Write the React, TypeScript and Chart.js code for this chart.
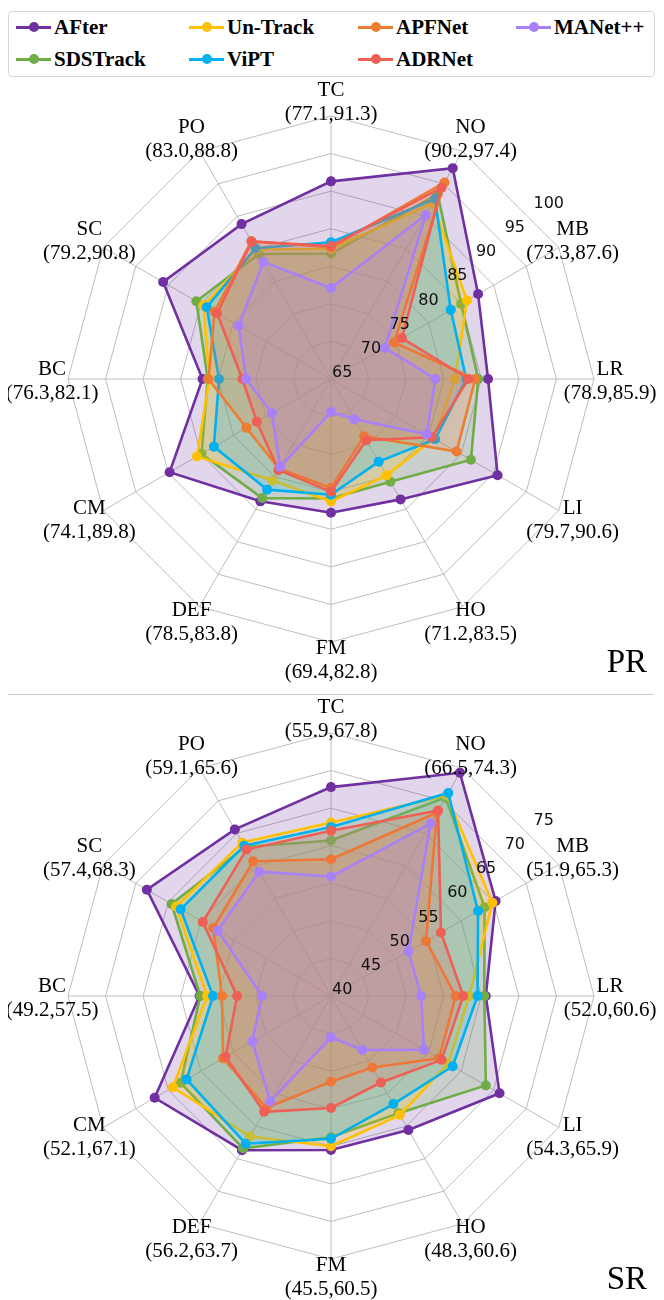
import React, { useEffect, useRef } from "react";
import { Chart, registerables } from "chart.js";

Chart.register(...registerables);

// ---------- data ----------
const categories = ["TC", "NO", "MB", "LR", "LI", "HO", "FM", "DEF", "CM", "BC", "SC", "PO"];
const prRanges = ["(77.1,91.3)", "(90.2,97.4)", "(73.3,87.6)", "(78.9,85.9)", "(79.7,90.6)", "(71.2,83.5)", "(69.4,82.8)", "(78.5,83.8)", "(74.1,89.8)", "(76.3,82.1)", "(79.2,90.8)", "(83.0,88.8)"];
const srRanges = ["(55.9,67.8)", "(66.5,74.3)", "(51.9,65.3)", "(52.0,60.6)", "(54.3,65.9)", "(48.3,60.6)", "(45.5,60.5)", "(56.2,63.7)", "(52.1,67.1)", "(49.2,57.5)", "(57.4,68.3)", "(59.1,65.6)"];
const prTicks = [65, 70, 75, 80, 85, 90, 95, 100];
const srTicks = [40, 45, 50, 55, 60, 65, 70, 75];

const trackers = ["AFter", "Un-Track", "APFNet", "MANet++", "SDSTrack", "ViPT", "ADRNet"];
const colors = ["#7030A0", "#FFC000", "#ED7D31", "#A880F8", "#70AD47", "#00B0F0", "#EE6055"];
const drawOrder = [6, 4, 2, 0, 5, 3, 1];

const prAFter = [91.3, 97.4, 87.6, 85.9, 90.6, 83.5, 82.8, 83.8, 89.8, 82.1, 90.8, 88.8];
const prUnTrack = [82.3, 92.0, 85.9, 81.5, 80.8, 79.8, 81.3, 80.6, 85.6, 81.2, 84.6, 84.9];
const prAPFNet = [82.5, 95.2, 74.7, 84.2, 84.3, 73.8, 79.5, 78.8, 78.0, 81.3, 82.9, 86.2];
const prMANet = [77.1, 90.2, 73.3, 78.9, 79.7, 71.2, 69.4, 78.5, 74.1, 76.3, 79.2, 83.0];
const prSDSTrack = [81.7, 93.4, 85.0, 84.6, 86.5, 80.8, 80.9, 83.3, 84.9, 81.4, 85.7, 84.2];
const prViPT = [83.2, 92.7, 83.4, 83.0, 81.0, 77.7, 80.4, 82.0, 83.0, 79.9, 84.1, 85.1];
const prADRNet = [82.7, 94.4, 75.9, 83.3, 80.5, 74.4, 80.0, 79.0, 76.4, 76.8, 82.5, 86.1];

const srAFter = [67.8, 74.3, 65.3, 60.6, 65.9, 60.6, 60.5, 63.7, 67.1, 57.5, 68.3, 65.6];
const srUnTrack = [63.1, 70.8, 64.8, 58.4, 58.0, 58.3, 60.0, 61.6, 64.3, 56.5, 63.8, 63.6];
const srAPFNet = [58.2, 68.2, 54.6, 56.6, 56.6, 51.0, 51.4, 57.2, 56.6, 54.5, 58.1, 60.7];
const srMANet = [55.9, 66.5, 51.9, 52.0, 54.3, 48.3, 45.5, 56.2, 52.1, 49.2, 57.4, 59.1];
const srSDSTrack = [60.7, 70.5, 63.6, 60.4, 63.8, 58.0, 58.8, 63.4, 63.1, 57.4, 64.5, 62.9];
const srViPT = [62.5, 71.2, 62.6, 59.5, 58.7, 56.6, 59.0, 62.7, 62.2, 55.7, 63.1, 63.1];
const srADRNet = [62.0, 68.5, 56.9, 57.6, 57.0, 53.3, 54.9, 57.8, 56.2, 52.5, 59.7, 62.5];

const prSeries = [prAFter, prUnTrack, prAPFNet, prMANet, prSDSTrack, prViPT, prADRNet];
const srSeries = [srAFter, srUnTrack, srAPFNet, srMANet, srSDSTrack, srViPT, srADRNet];

// ---------- helpers ----------
const SERIF = "'Liberation Serif', 'Times New Roman', serif";

function hexToRgba(hex: string, a: number) {
  const n = parseInt(hex.slice(1), 16);
  return `rgba(${(n >> 16) & 255},${(n >> 8) & 255},${n & 255},${a})`;
}

function makeDecor(ticks: number[], ranges: string[], title: string, titleY: number) {
  return {
    id: "decor",
    afterDraw(chart: any) {
      const ctx = chart.ctx;
      const s = chart.scales.r;
      ctx.save();
      // radial tick labels along a 50deg (clockwise from top) direction
      ctx.fillStyle = "#111";
      ctx.font = "16px 'DejaVu Sans'";
      ctx.textAlign = "left";
      ctx.textBaseline = "alphabetic";
      const a = (50 * Math.PI) / 180;
      ticks.forEach((v) => {
        const d = s.getDistanceFromCenterForValue(v);
        ctx.fillText(String(v), s.xCenter + Math.sin(a) * d + 1, s.yCenter - Math.cos(a) * d - 2);
      });
      // point labels (two lines)
      ctx.fillStyle = "#000";
      ctx.font = "21px " + SERIF;
      ctx.textAlign = "center";
      categories.forEach((c, i) => {
        const p = s.getPointPosition(i, s.drawingArea + 16);
        ctx.fillText(c, p.x, p.y - 4.5);
        ctx.fillText(ranges[i], p.x, p.y + 19.5);
      });
      // panel title
      ctx.font = "33px " + SERIF;
      ctx.textAlign = "right";
      ctx.fillText(title, 639, titleY);
      ctx.restore();
    },
  };
}

type RadarProps = {
  series: number[][];
  ticks: number[];
  ranges: string[];
  title: string;
  titleY: number;
  top: number;
  height: number;
  padTop: number;
};

function RadarPanel({ series, ticks, ranges, title, titleY, top, height, padTop }: RadarProps) {
  const ref = useRef<HTMLCanvasElement>(null);
  useEffect(() => {
    if (!ref.current) return;
    const chart = new Chart(ref.current, {
      type: "radar",
      data: {
        labels: categories,
        datasets: trackers.map((name, i) => ({
          label: name,
          data: series[i],
          borderColor: colors[i],
          backgroundColor: hexToRgba(colors[i], 0.2),
          pointBackgroundColor: colors[i],
          pointBorderColor: colors[i],
          pointBorderWidth: 0,
          pointRadius: 5,
          borderWidth: 2.6,
          fill: true,
          order: drawOrder[i],
          tension: 0,
        })),
      },
      options: {
        animation: false,
        responsive: false,
        events: [],
        layout: { padding: { left: 60, right: 62, top: padTop, bottom: height - padTop - 526 } },
        plugins: { legend: { display: false }, tooltip: { enabled: false } },
        scales: {
          r: {
            min: ticks[0],
            max: ticks[ticks.length - 1],
            ticks: { stepSize: 5, display: false },
            pointLabels: { display: false },
            grid: { color: "#bdbdbd", lineWidth: 1 },
            angleLines: { color: "#bdbdbd", lineWidth: 1 },
          },
        },
      },
      plugins: [makeDecor(ticks, ranges, title, titleY)],
    } as any);
    return () => chart.destroy();
  }, []);
  return (
    <canvas
      ref={ref}
      width={648}
      height={height}
      style={{ position: "absolute", left: 0, top, width: 648, height }}
    />
  );
}

const legendCols = [7, 180, 349, 507];
const legendRows = [18, 50];

function Legend() {
  return (
    <div
      style={{
        position: "absolute",
        left: 0,
        top: 3,
        width: 647,
        height: 66,
        boxSizing: "border-box",
        border: "1px solid #d6d6d6",
        borderRadius: 4,
      }}
    >
      {trackers.map((name, i) => {
        const x = legendCols[i % 4];
        const y = legendRows[Math.floor(i / 4)] - 3;
        return (
          <div key={name} style={{ position: "absolute", left: x, top: y - 15, height: 30, width: 170 }}>
            <div style={{ position: "absolute", left: 0, top: 13.5, width: 35, height: 3, background: colors[i] }} />
            <div
              style={{
                position: "absolute",
                left: 12.5,
                top: 10,
                width: 10,
                height: 10,
                borderRadius: 5,
                background: colors[i],
              }}
            />
            <div
              style={{
                position: "absolute",
                left: 38,
                top: 0,
                lineHeight: "30px",
                fontFamily: SERIF,
                fontWeight: "bold",
                fontSize: 21,
                color: "#000",
                whiteSpace: "nowrap",
              }}
            >
              {name}
            </div>
          </div>
        );
      })}
    </div>
  );
}

export default function App() {
  return (
    <div style={{ position: "relative", width: 648, height: 1292 }}>
      <style>{"html,body{overflow:hidden}"}</style>
      <Legend />
      <RadarPanel series={prSeries} ticks={prTicks} ranges={prRanges} title="PR" titleY={602} top={62} height={620} padTop={46} />
      <div style={{ position: "absolute", left: 0, top: 686, width: 646, height: 0, borderTop: "1px solid #cfcfcf" }} />
      <RadarPanel series={srSeries} ticks={srTicks} ranges={srRanges} title="SR" titleY={593} top={688} height={604} padTop={37} />
    </div>
  );
}
